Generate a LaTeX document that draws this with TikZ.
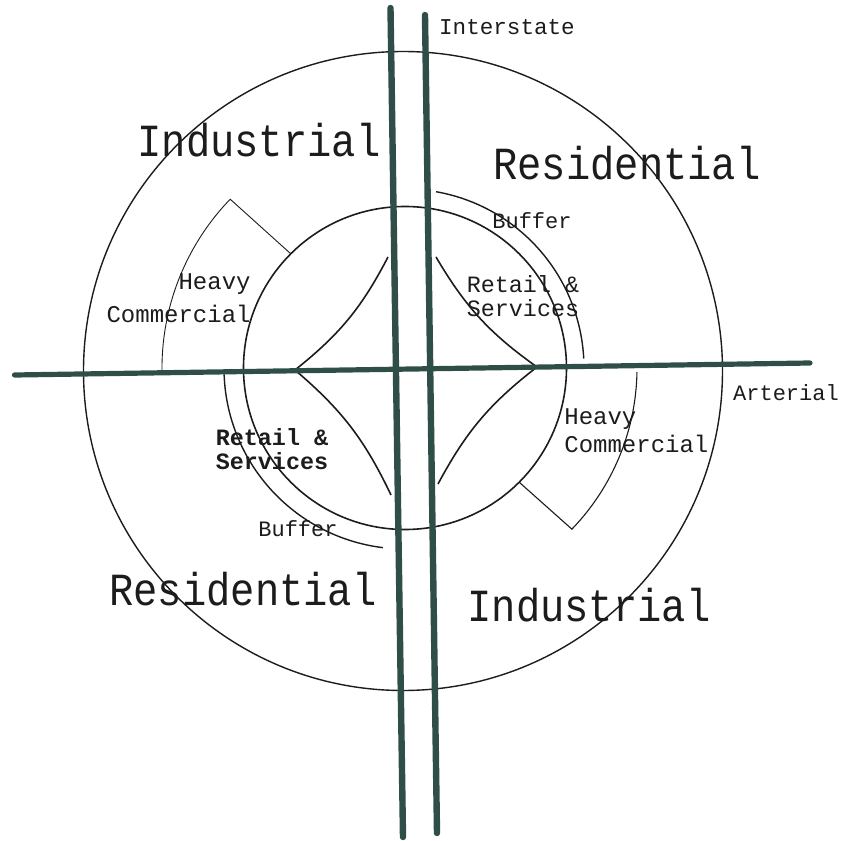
\documentclass[tikz,border=0pt]{standalone}
\usepackage{fontspec}
\usepackage{tikz}
\newfontfamily\plotfont[FakeStretch=0.88]{Liberation Mono}
\newfontfamily\plotsmall{Liberation Mono}
\definecolor{road}{HTML}{2F4E48}
\definecolor{ink}{HTML}{1C1C1C}
\tikzset{
  roadline/.style={draw=road,line width=3pt,line cap=round},
  ringline/.style={draw=ink,line width=0.8pt},
  thinline/.style={draw=ink,line width=0.55pt},
  zonelabel/.style={font=\plotfont\fontsize{23}{26}\selectfont,
                    text=ink,inner sep=0pt},
  smalllabel/.style={font=\plotsmall\fontsize{11.7}{12}\selectfont,
                     text=ink,inner sep=0pt,align=center}
}

\begin{document}
\begin{tikzpicture}[x=0.5pt,y=0.5pt]
  \useasboundingbox (-405,-473) rectangle (436,368);

  % Rings round the interchange
  \draw[ringline,line width=0.7pt] (-2,-3) circle[radius=319.5];
  \draw[ringline] (0,0) circle[radius=161.5];

  % Buffer arcs
  \draw[thinline,line width=0.7pt] (80:179) arc[start angle=80,end angle=3,radius=179];
  \draw[thinline,line width=0.7pt] (182:181) arc[start angle=182,end angle=263,radius=181];

  % Heavy commercial outlines
  \draw[thinline,line width=0.45pt] (181:243) arc[start angle=181,end angle=136,radius=243] -- (135:161.5);
  \draw[thinline] (-1:232) arc[start angle=-1,end angle=-44,radius=232] -- (-45:161.5);

  % Ramps
  \coordinate (rampNW) at (-17,111);
  \coordinate (cuspW) at (-110,-2);
  \coordinate (rampSW) at (-14,-127);
  \coordinate (rampSE) at (33,-116);
  \coordinate (cuspE) at (132,1);
  \coordinate (rampNE) at (31,111);
  \draw[ringline] (rampNW) to[bend left=12] (cuspW) to[bend left=12] (rampSW);
  \draw[ringline] (rampSE) to[bend left=12] (cuspE) to[bend left=12] (rampNE);

  % Roads
  \coordinate (westN) at (-14.5,360);
  \coordinate (westS) at (-2,-469);
  \coordinate (eastN) at (20,353);
  \coordinate (eastS) at (32,-465);
  \coordinate (artW) at (-390.5,-7);
  \coordinate (artE) at (405,5);
  \draw[roadline,line width=3.2pt] (westN) -- (westS);
  \draw[roadline,line width=3.2pt] (eastN) -- (eastS);
  \draw[roadline,line width=2.6pt] (artW) -- (artE);

  % Zone names
  \node[zonelabel] (indNW) at (-146,228) {Industrial};
  \node[zonelabel] (resNE) at (222,205) {Residential};
  \node[zonelabel] (resSW) at (-162,-221) {Residential};
  \node[zonelabel] (indSE) at (184,-237) {Industrial};

  % Inner labels
  \node[smalllabel,font=\plotsmall\fontsize{11}{12}\selectfont] (bufNE) at (127,147) {Buffer};
  \node[smalllabel] (retNE) at (118,72) {Retail \&\\Services};
  \node[smalllabel,font=\plotsmall\fontsize{12}{16.5}\selectfont,align=right,anchor=east] (hvyNW) at (-154,70) {Heavy\\Commercial};
  \node[smalllabel,font=\plotsmall\fontsize{12}{14}\selectfont,align=left,anchor=west] (hvySE) at (159,-63) {Heavy\\Commercial};
  \node[smalllabel,font=\plotsmall\bfseries\fontsize{11.7}{12}\selectfont] (retSW) at (-133,-81) {Retail \&\\Services};
  \node[smalllabel,font=\plotsmall\fontsize{11}{12}\selectfont] (bufSW) at (-107,-161) {Buffer};

  % Road names
  \node[smalllabel,font=\plotsmall\fontsize{11.3}{12}\selectfont] (intName) at (102,341) {Interstate};
  \node[smalllabel,font=\plotsmall\fontsize{11}{12}\selectfont] (artName) at (381,-25) {Arterial};
\end{tikzpicture}
\end{document}
